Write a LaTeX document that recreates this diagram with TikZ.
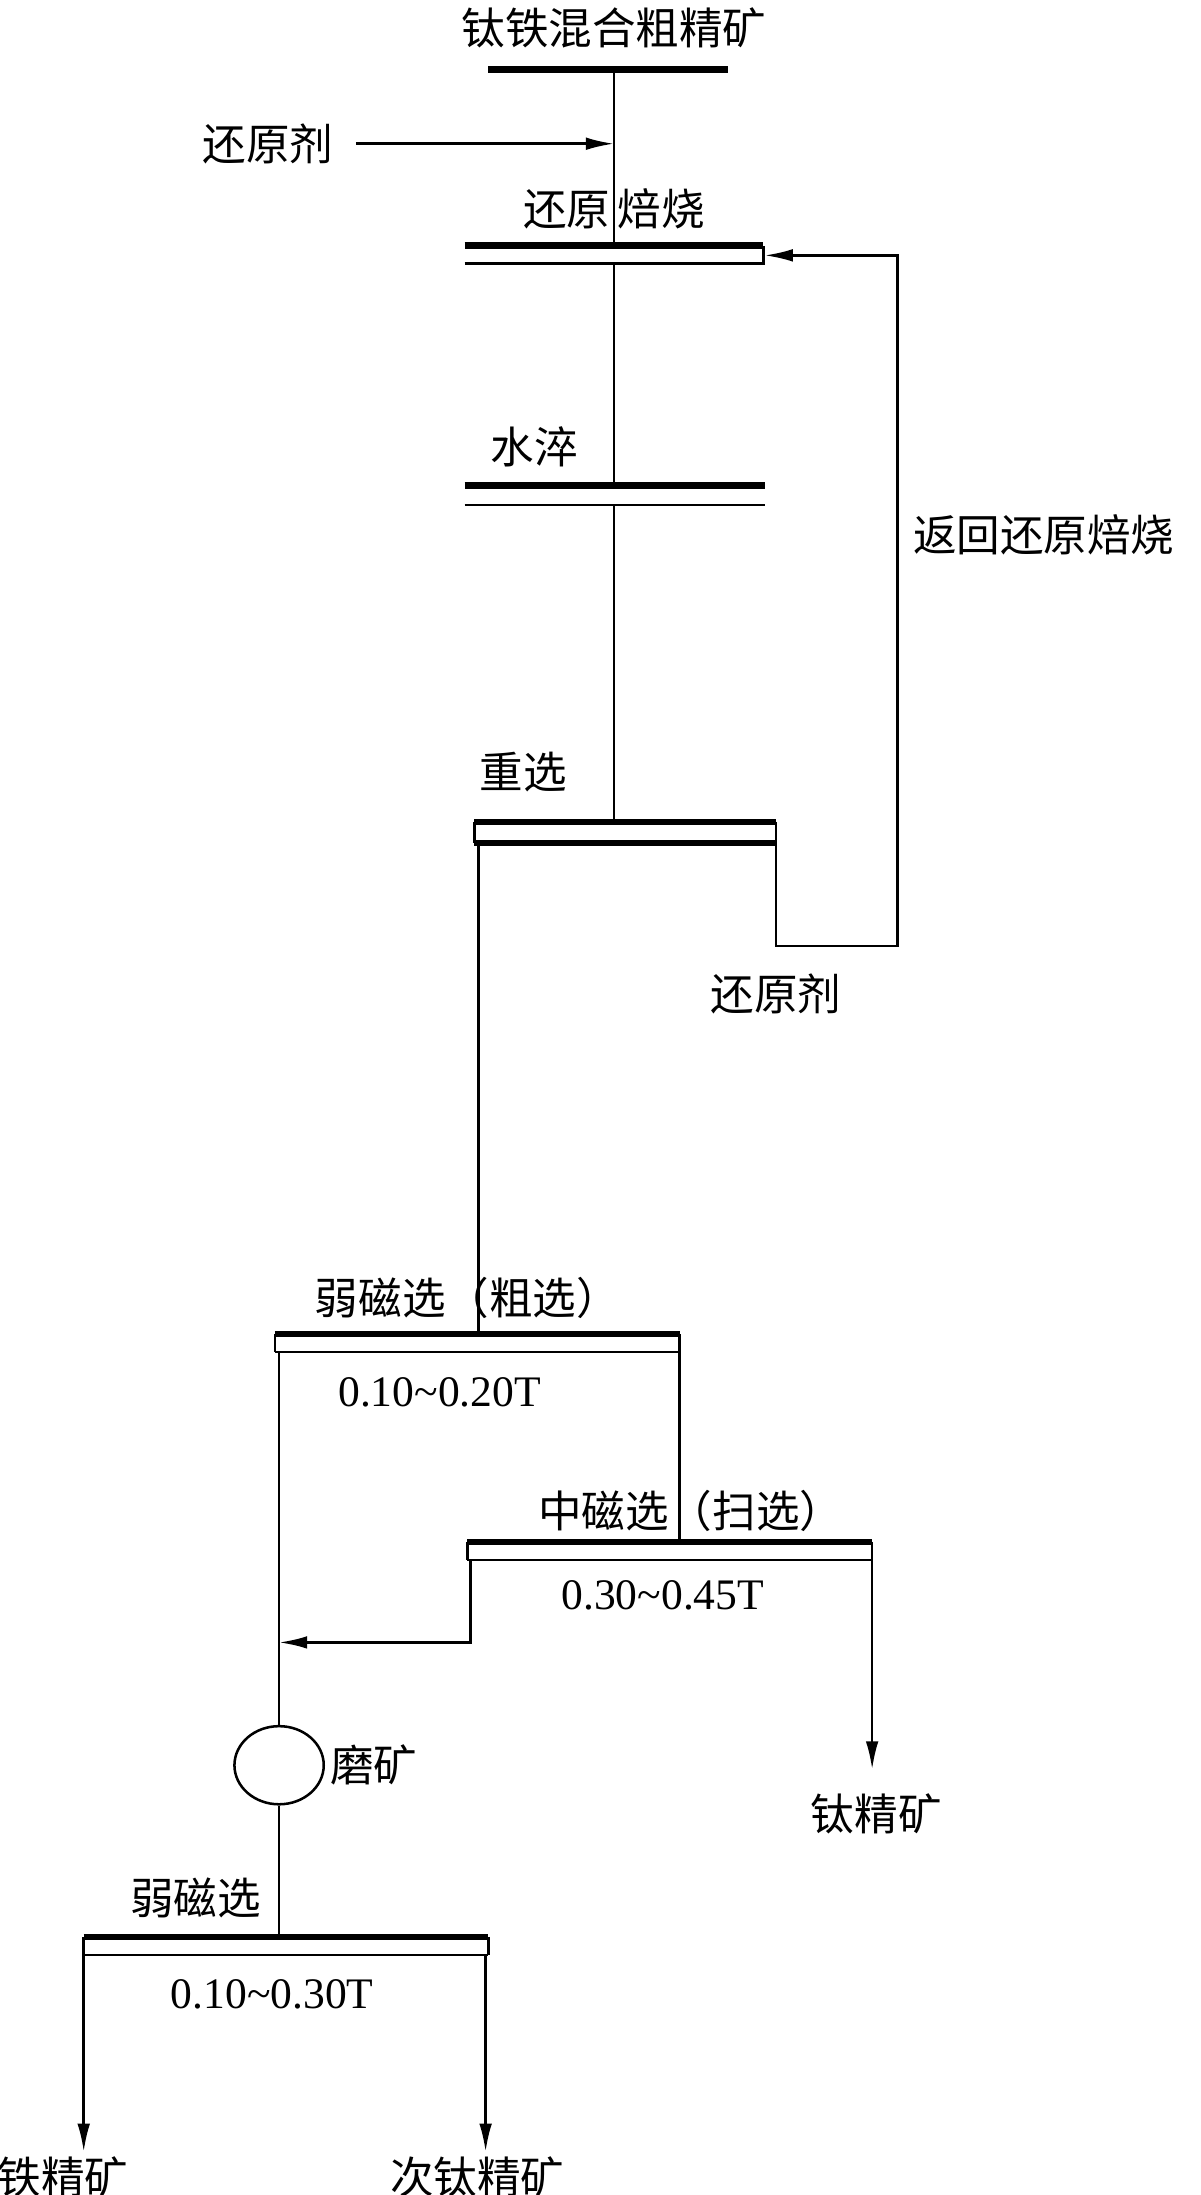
\documentclass[tikz,border=0pt]{standalone}
\usepackage{fontspec}
\setmainfont{Liberation Serif}
\newfontfamily\cjk{Noto Sans CJK SC}
\usetikzlibrary{arrows.meta,shapes.geometric}
\newcommand{\tld}{\char"7E\relax}
\begin{document}
\begin{tikzpicture}[x=0.0698cm,y=-0.0698cm,
  ln/.style={line width=3.6pt},
  bar/.style={line width=9.5pt},
  arr/.style={ln,-{Latex[length=40pt,width=18pt]}},
  lab/.style={font=\fontsize{62}{66}\selectfont\cjk,inner sep=0},
  num/.style={font=\fontsize{62}{66}\selectfont,inner sep=0}]
\useasboundingbox (0,0) rectangle (860,1573);
\fill[white] (0,0) rectangle (860,1573);
% top
\node[lab] (t0) at (440,20) {钛铁混合粗精矿};
\draw[bar] (350,50) -- (522,50);
\draw[ln] (440,50) -- (440,175);
\node[lab] (r1) at (192,103) {还原剂};
\coordinate (r1a) at (440,103);
\draw[arr] (255,103) -- (r1a);
% roast
\node[lab] (roast) at (440,150) {还原\,焙烧};
\draw[bar] (333,176) -- (547,176);
\draw[ln] (333,189) -- (547,189) -- (547,176);
\draw[ln] (440,189) -- (440,347);
% quench
\node[lab] (q) at (383,320) {水淬};
\draw[bar] (333,348) -- (548,348);
\draw[ln] (333,362) -- (548,362);
\draw[ln] (440,362) -- (440,588);
% gravity
\node[lab] (g) at (375,553) {重选};
\draw[bar] (340,589) -- (556,589);
\draw[bar] (340,604) -- (556,604);
\draw[ln] (340,589) -- (340,604) (556,589) -- (556,604);
\draw[ln] (343,604) -- (343,955);
\coordinate (ret) at (548,183);
\draw[arr] (556,604) -- (556,678) -- (643,678) -- (643,183) -- (ret);
\node[lab] (r2) at (556,712) {还原剂};
\node[lab] (back) at (748,383) {返回还原焙烧};
% weak mag
\node[lab] (w1) at (335,930) {弱磁选（粗选）};
\draw[bar] (197,956) -- (487,956);
\draw[ln] (197,969) -- (487,969);
\draw[ln] (197,956) -- (197,969) (487,956) -- (487,969);
\node[num] (n1) at (315,998) {0.10\tld0.20T};
\draw[ln] (200,969) -- (200,1237);
\draw[ln] (487,969) -- (487,1105);
% medium mag
\node[lab] (m1) at (495,1083) {中磁选（扫选）};
\draw[bar] (335,1105) -- (625,1105);
\draw[ln] (335,1118) -- (625,1118);
\draw[ln] (335,1105) -- (335,1118) (625,1105) -- (625,1118);
\node[num] (n2) at (475,1143) {0.30\tld0.45T};
\coordinate (j) at (200,1177);
\draw[arr] (337,1118) -- (337,1177) -- (j);
\coordinate (ti) at (625,1268);
\draw[arr] (625,1118) -- (ti);
\node[lab] (tic) at (628,1300) {钛精矿};
% mill
\node[draw,ln,ellipse,minimum width=64*0.0698cm,minimum height=56*0.0698cm,inner sep=0] (mill) at (200,1265) {};
\node[lab] (ml) at (268,1265) {磨矿};
\draw[ln] (mill.south) -- (200,1387);
% final
\node[lab] (w2) at (140,1360) {弱磁选};
\draw[bar] (60,1388) -- (350,1388);
\draw[ln] (60,1401) -- (350,1401);
\draw[ln] (60,1388) -- (60,1401) (350,1388) -- (350,1401);
\node[num] (n3) at (195,1429) {0.10\tld0.30T};
\coordinate (fe) at (60,1542);
\coordinate (st) at (348,1542);
\draw[arr] (60,1401) -- (fe);
\draw[arr] (348,1401) -- (st);
\node[lab] (fel) at (45,1560) {铁精矿};
\node[lab] (stl) at (342,1560) {次钛精矿};
\end{tikzpicture}
\end{document}
